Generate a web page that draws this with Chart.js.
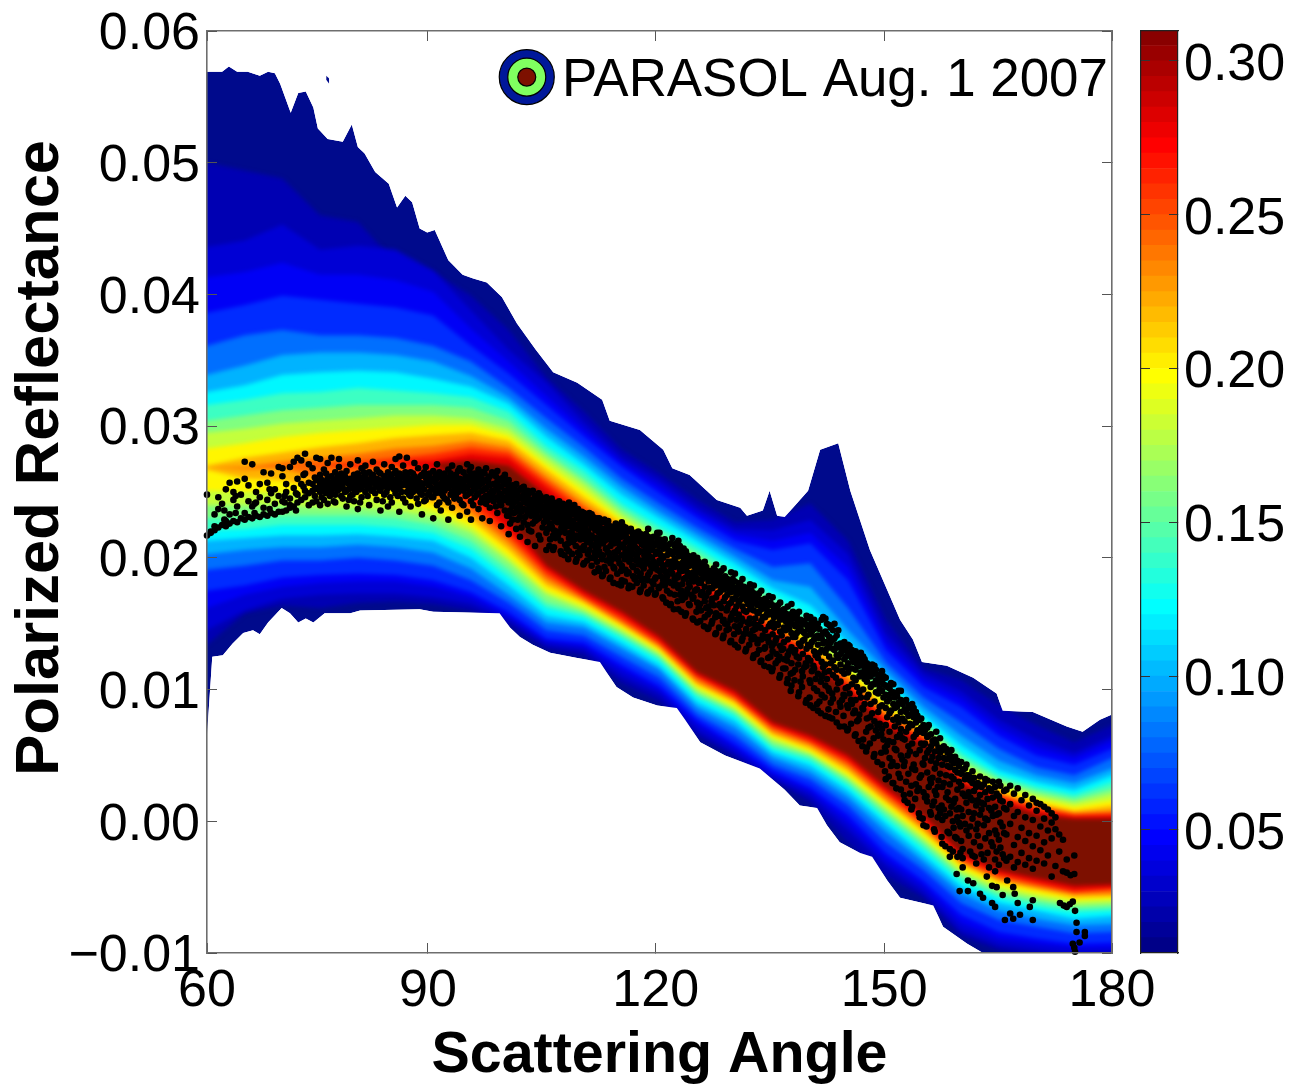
<!DOCTYPE html>
<html><head><meta charset="utf-8">
<style>html,body{margin:0;padding:0;background:#fff}#wrap{position:relative;width:1291px;height:1087px;overflow:hidden}canvas{position:absolute;top:0}</style>
<script src="https://cdn.jsdelivr.net/npm/chart.js@4"></script>
</head><body><div id="wrap"><canvas id="main" width="1291" height="1087" style="left:0"></canvas><canvas id="bar" width="161" height="1087" style="left:1130px"></canvas></div>
<script>
// all reflectance values below are in thousandths
const xTickValues=[60,89.3,119.5,149.8,180];
const xTickLabels=['60','90','120','150','180'];
const yTickValues=[-0.01,0,0.01,0.02,0.03,0.04,0.05,0.06];
const yTickLabels=['\u22120.01','0.00','0.01','0.02','0.03','0.04','0.05','0.06'];
const barTickValues=[0.05,0.10,0.15,0.20,0.25,0.30];
const barTickLabels=['0.05','0.10','0.15','0.20','0.25','0.30'];
const barEdges=[0.01,0.015,0.02,0.025,0.03,0.035,0.04,0.045,0.05,0.055,0.06,0.065,0.07,0.075,0.08,0.085,0.09,0.095,0.10,0.105,0.11,0.115,0.12,0.125,0.13,0.135,0.14,0.145,0.15,0.155,0.16,0.165,0.17,0.175,0.18,0.185,0.19,0.195,0.20,0.205,0.21,0.215,0.22,0.225,0.23,0.235,0.24,0.245,0.25,0.255,0.26,0.265,0.27,0.275,0.28,0.285,0.29,0.295,0.30,0.305,0.3097];
const legendText='PARASOL Aug. 1 2007';
const legendAngle=[102.4];
const legendRefl=[56.5];
const bandLevels=[0.03,0.05,0.07,0.09,0.11,0.13,0.15,0.17,0.19,0.21,0.23,0.25,0.27,0.29];
const bandAngles=[60,65,70,75,80,85,90,95,100,105,110,115,120,125,130,135,140,145,150,155,160,165,170,175,180];
const level02Upper=[50.0,49.4,48.8,46.0,45.5,42.4,41.7,39.9,37.3,33.7,31.1,28.2,26.4,24.4,22.7,22.9,24.1,21.3,15.3,11.6,10.7,8.8,7.3,6.0,7.3];
const level02Lower=[13.4,15.8,16.4,16.2,16.6,16.7,16.5,16.0,14.9,13.1,12.6,10.5,9.1,6.5,4.9,3.2,1.4,-1.6,-4.1,-5.8,-8.7,-9.8,-10.4,-10.7,-10.6];
const level04Upper=[41.3,41.7,42.4,41.5,41.5,41.1,40.2,37.4,34.9,32.3,29.7,27.2,25.4,23.4,21.8,21.3,21.9,19.3,13.6,10.7,9.3,7.1,5.6,4.8,6.1];
const level04Lower=[16.2,17.2,17.8,18.1,18.2,18.2,17.8,17.0,15.6,13.7,13.3,11.5,10.0,7.4,5.6,3.6,2.3,-0.1,-2.9,-4.9,-7.7,-8.9,-9.3,-9.6,-9.6];
// one row per angle, one entry per band level
const bandUpper=[
[43.6,38.6,36.1,33.9,32.6,31.6,30.4,29.5,28.3,27.0,26.9,26.9,26.9,26.9],
[44.1,39.2,36.9,34.6,33.1,32.0,30.8,29.8,28.7,27.6,26.9,26.9,26.9,26.9],
[45.3,39.9,37.3,35.4,33.9,32.5,31.2,30.2,29.2,28.0,27.3,27.0,27.0,27.0],
[43.4,39.6,36.9,35.6,34.1,32.6,31.4,30.4,29.5,28.4,27.6,27.1,27.1,27.1],
[43.7,39.3,36.9,35.6,34.2,32.9,31.6,30.6,29.7,28.7,27.9,27.3,27.0,27.0],
[43.4,39.0,36.7,35.4,34.1,32.7,31.6,30.8,29.9,29.1,28.3,27.6,27.3,27.3],
[41.8,38.4,36.1,34.9,33.6,32.5,31.6,30.8,30.1,29.3,28.5,27.9,27.4,27.1],
[38.8,36.1,34.9,33.8,33.0,32.2,31.4,30.6,30.1,29.5,28.9,28.4,27.9,27.4],
[35.8,34.0,32.9,32.2,31.7,31.1,30.4,29.8,29.3,28.9,28.4,28.0,27.6,27.0],
[33.3,31.6,30.6,29.8,29.2,28.5,28.0,27.6,27.1,26.7,26.2,25.8,25.4,24.8],
[30.3,29.2,28.4,27.7,27.1,26.6,26.0,25.6,25.1,24.6,24.1,23.7,23.2,22.8],
[27.6,26.9,26.0,25.4,24.8,24.1,23.7,23.3,22.9,22.6,22.2,21.9,21.7,21.4],
[25.9,24.9,24.1,23.5,23.0,22.4,21.9,21.5,21.1,20.8,20.5,20.2,20.0,19.7],
[23.8,23.0,22.3,21.8,21.3,20.8,20.3,20.0,19.4,19.1,18.8,18.5,18.1,17.8],
[22.2,21.3,20.7,20.1,19.6,19.0,18.5,18.1,17.5,17.2,16.9,16.6,16.3,16.0],
[22.1,20.6,19.3,18.3,17.7,17.2,16.8,16.3,15.9,15.5,15.1,14.7,14.4,14.0],
[22.9,21.1,19.6,17.8,16.4,15.6,15.0,14.4,13.7,13.4,13.0,12.7,12.5,12.1],
[20.3,18.3,16.2,14.5,13.6,12.9,12.4,11.9,11.6,11.2,10.9,10.5,10.2,9.9],
[14.3,13.0,12.1,11.5,10.9,10.5,10.0,9.6,9.0,8.6,8.2,7.9,7.6,7.2],
[11.2,10.2,9.4,8.7,8.1,7.7,7.5,7.3,7.0,6.8,6.5,6.3,6.1,5.8],
[9.9,8.7,7.5,6.5,5.8,5.2,4.8,4.4,4.0,3.7,3.5,3.3,3.0,2.8],
[7.7,6.5,5.5,4.6,3.9,3.5,3.2,2.9,2.6,2.4,2.1,2.0,1.7,1.5],
[6.2,5.0,4.1,3.5,3.0,2.6,2.3,2.0,1.7,1.4,1.2,1.0,0.8,0.5],
[5.2,4.3,3.5,2.9,2.4,2.0,1.7,1.4,1.1,0.8,0.6,0.5,0.3,0.2],
[6.5,5.5,4.8,4.0,3.5,3.0,2.5,2.1,1.6,1.2,0.8,0.6,0.4,0.2]];
const bandLower=[
[14.5,17.5,19.1,20.3,21.3,22.1,23.0,24.0,25.1,26.7,26.9,26.9,26.9,26.9],
[16.0,17.9,19.4,20.6,21.5,22.2,23.0,24.0,25.0,26.0,26.7,26.9,26.9,26.9],
[16.9,18.5,19.8,20.8,21.7,22.5,23.2,24.0,25.0,25.9,26.8,27.0,27.0,27.0],
[17.2,18.7,19.8,20.8,21.7,22.5,23.2,23.8,24.6,25.3,26.0,27.0,27.1,27.1],
[17.3,18.8,20.0,21.0,21.8,22.5,23.2,23.8,24.6,25.3,25.9,26.8,27.0,27.0],
[17.3,18.7,19.8,20.8,21.6,22.3,23.0,23.6,24.4,25.1,25.7,27.0,27.3,27.3],
[17.0,18.3,19.4,20.4,21.3,21.9,22.5,23.1,23.6,24.1,24.8,25.5,26.7,27.1],
[16.5,17.4,18.3,19.2,20.0,20.7,21.3,21.9,22.4,22.9,23.4,24.0,24.8,25.7],
[15.3,15.9,16.6,17.2,17.9,18.5,19.1,19.7,20.1,20.6,21.1,21.6,22.1,22.9],
[13.4,13.9,14.5,15.1,15.6,16.2,16.6,17.2,17.5,17.9,18.3,18.7,19.1,19.4],
[13.0,13.6,14.1,14.7,15.1,15.5,15.8,16.0,16.3,16.6,16.8,17.0,17.2,17.5],
[11.0,11.9,12.5,13.1,13.5,13.9,14.2,14.4,14.7,14.9,15.1,15.3,15.6,15.9],
[9.6,10.3,10.9,11.5,11.8,12.2,12.5,12.7,12.9,13.1,13.3,13.5,13.7,14.0],
[6.9,7.7,8.1,8.6,9.0,9.4,9.7,9.9,10.2,10.4,10.6,10.9,11.1,11.3],
[5.2,5.9,6.5,7.1,7.6,8.0,8.3,8.5,8.7,9.0,9.2,9.4,9.6,9.9],
[3.3,3.9,4.3,4.8,5.2,5.5,5.8,6.1,6.4,6.6,6.8,7.1,7.3,7.5],
[1.9,2.6,3.2,3.7,4.2,4.6,4.9,5.1,5.3,5.5,5.8,6.0,6.2,6.5],
[-0.7,0.5,1.2,1.8,2.3,2.7,3.0,3.3,3.5,3.8,4.1,4.4,4.7,5.0],
[-3.4,-2.4,-1.6,-0.8,-0.2,0.2,0.6,0.9,1.2,1.5,1.7,2.1,2.3,2.6],
[-5.4,-4.5,-3.7,-3.1,-2.6,-2.1,-1.7,-1.4,-1.1,-0.8,-0.5,-0.2,0.1,0.5],
[-8.3,-7.1,-6.2,-5.5,-5.0,-4.6,-4.2,-3.9,-3.6,-3.3,-3.1,-2.9,-2.7,-2.4],
[-9.4,-8.4,-7.5,-6.8,-6.2,-5.8,-5.5,-5.2,-4.9,-4.6,-4.4,-4.2,-3.9,-3.7],
[-9.8,-8.9,-8.0,-7.4,-6.8,-6.5,-6.1,-5.8,-5.5,-5.2,-5.0,-4.8,-4.6,-4.3],
[-10.2,-9.3,-8.5,-7.9,-7.4,-6.9,-6.6,-6.3,-6.0,-5.8,-5.5,-5.4,-5.2,-4.9],
[-10.0,-9.2,-8.4,-7.8,-7.2,-6.8,-6.5,-6.2,-5.9,-5.7,-5.5,-5.2,-5.0,-4.8]];
const outerTopAngle=[60,62,62.9,64,65.4,67,68.1,69,69.7,71.1,72.1,73.1,74.1,74.7,76,78,79.2,80,80.9,82.3,84.1,85.2,86.3,87.2,88.2,89.2,90.2,92,93.9,95.3,97.1,99.1,101.1,103.6,105.9,109.1,112.4,113.4,117.4,120.5,121.7,124,127.6,130.7,131.6,133.7,134.6,135.6,136.6,137.7,139.7,141.3,143.7,145.3,147.9,151.9,153.6,154.8,158.1,161.6,164.7,165.5,169.5,174,176.1,178.4,180];
const outerTopRefl=[56.9,56.9,57.3,56.9,56.9,56.6,56.9,56.8,56.0,53.8,55.3,55.4,54.2,52.6,51.8,51.6,52.9,51.2,50.7,49.3,48.4,46.6,47.5,47.0,45.0,44.7,44.9,42.6,41.5,41.2,40.9,39.8,37.8,35.8,34.1,33.3,32.0,30.4,29.7,28.2,26.8,26.3,24.4,23.8,23.2,23.6,25.1,23.2,23.1,23.8,25.1,28.2,28.7,25.1,20.6,15.3,13.8,12.1,11.8,10.9,9.7,8.4,8.3,7.2,6.8,7.7,8.1];
const outerLowAngle=[60,60.7,62.1,63.4,64.8,66.1,67,68.1,69.9,71,72.1,73.1,74.1,75.6,79,80.3,88.2,90,98.8,100.2,101.5,103.2,105.5,109.1,112.1,113,114.3,116.5,119.7,122.3,123.4,125.4,128.7,133.3,136.6,138.6,140.9,142.2,143.9,146.6,148.2,150.2,151.9,156.3,157.6,160.8,162.9,165.1,180];
const outerLowRefl=[6.5,12.5,12.6,13.5,14.3,14.5,14.2,15.1,16.2,15.8,15.1,15.4,15.1,15.8,15.8,16.0,16.1,15.9,15.8,14.7,14.0,13.4,12.8,12.4,12.1,11.3,10.2,9.4,8.8,8.6,7.7,6.0,5.0,4.0,2.4,1.2,1.0,-0.3,-1.6,-2.4,-2.7,-4.5,-5.8,-6.4,-8.0,-9.3,-10,-10.9,-12.8];
const islandAngle=[75.8,76.2];
const islandTop=[56.6,56.4];
const islandLow=[56.3,56.0];
// each row: angle, then the reflectance of the dots read at that angle
const dotRows=[
[60,24.8,21.7],[60.5,21.9,22.0],[61,22.1,22.4,23.3],[61.5,22.3,23.7,24.6],[62,22.5,24.1],[62.5,22.4,22.8,25.2],[63,22.6,23.3,25.7],[63.5,22.8,24.4,25.0],[64,22.7,23.9,25.8],[64.5,23.0,24.8],
[65,22.9,23.4,26.0,27.3],[65.5,23.1,24.3,25.5],[66,23.0,23.9,27.1],[66.5,23.2,25.0,24.2],[67,23.1,24.6,25.6],[67.5,23.3,23.8,26.5],[68,23.2,24.4,25.7],[68.5,23.4,24.9,26.4],[69,23.3,24.1,25.2],[69.5,23.5,24.7,26.9],
[70,23.5,24.3,26.2,26.8],[70.5,23.6,25.0,25.6],[71,23.8,24.5,26.9,24.0],[71.5,23.9,25.3,27.3],[72,24.2,24.8,26.0,27.6],[72.5,24.4,25.6,27.4],[73,24.6,25.1,26.4,27.9],[73.5,24.0,24.9,25.7,27.1],[74,25.1,25.6,26.8,24.2],[74.5,24.3,25.3,25.9,27.6],
[75,24.0,25.0,25.6,26.3,27.5],[75.5,24.4,25.2,25.8,26.7],[76,24.1,25.4,26.0,27.2],[76.5,25.0,25.5,26.2,27.6],[77,24.2,24.8,25.7,26.5],[77.5,25.2,25.9,26.9,27.5],[78,24.5,25.3,25.6,26.1],[78.5,23.9,25.1,25.8,26.6],[79,25.4,26.0,27.1,24.7],[79.5,24.3,25.2,25.7,26.3],
[80,25.5,25.9,26.4,27.4,23.7],[80.5,24.6,25.3,26.1,26.8],[81,25.0,25.6,26.2,27.0],[81.5,24.0,25.4,25.9,26.5],[82,25.2,25.8,26.3,27.3],[82.5,24.4,25.5,26.0,26.7],[83,23.6,25.1,25.7,26.4],[83.5,24.8,25.6,26.2,27.1],[84,25.3,25.9,26.5,23.9],[84.5,24.2,25.5,26.0,26.9],
[85,24.9,25.4,25.8,26.6,27.5],[85.5,23.5,25.2,25.9,26.4,27.7],[86,24.5,25.6,26.1,27.0],[86.5,25.0,25.5,26.3,27.6],[87,23.9,24.7,25.8,26.5],[87.5,25.2,25.9,26.2,27.2],[88,24.1,25.1,25.6,26.0,26.8],[88.5,23.3,24.8,25.4,26.3],[89,24.4,25.7,26.1,26.9],[89.5,25.0,25.5,25.9,26.4],
[90,23.0,24.6,25.2,25.8,26.6],[90.5,24.0,25.4,26.0,27.1],[91,23.6,24.9,25.6,26.2],[91.5,24.5,25.1,25.7,26.4],[92,22.9,24.2,25.3,25.9,26.7],[92.5,23.8,25.0,25.5,26.1,27.0],[93,24.7,25.4,25.8,26.3],[93.5,23.2,24.4,25.2,26.0,26.8],[94,24.0,25.1,25.6,26.5],[94.5,23.5,24.8,25.3,25.9,27.1],
[95,22.9,24.3,25.0,25.7,26.2,26.9],[95.5,24.6,25.2,25.8,26.4],[96,23.7,24.9,25.4,26.0,26.7],[96.5,23.0,24.5,25.1,25.7,26.5],[97,24.1,24.7,25.3,25.9,26.8],[97.5,22.8,23.8,24.9,25.5,26.2],[98,24.3,25.0,25.6,26.4],[98.5,23.4,24.6,25.2,25.8,26.6],[99,22.4,24.0,24.8,25.4,26.0],[99.5,23.6,24.4,25.1,25.6,26.3],
[100,21.8,23.2,24.2,24.8,25.3,25.9],[100.5,22.9,23.9,24.6,25.0,25.5],[101,22.2,23.5,24.3,24.9,25.6],[101.5,21.6,23.1,24.0,24.5,25.2],[102,22.7,23.7,24.4,24.8,25.4],[102.5,21.2,22.5,23.4,24.1,24.6,25.1],[103,22.0,23.2,23.9,24.4,25.0],[103.5,20.9,22.8,23.6,24.2,24.7],[104,21.7,23.0,23.8,24.3,24.9],[104.5,22.3,23.3,23.9,24.5],
[105,20.6,21.9,22.9,23.5,24.0,24.6],[105.5,21.4,22.6,23.3,23.8,24.3],[106,20.8,22.1,23.0,23.6,24.2],[106.5,21.6,22.7,23.2,23.7,24.1],[107,20.3,22.3,22.9,23.5,24.0],[107.5,21.0,21.9,22.6,23.2,23.8],[108,20.5,21.5,22.4,23.0,23.6,24.2],[108.5,21.2,22.2,22.8,23.3,23.7],[109,19.9,21.7,22.5,23.0,23.5],[109.5,20.7,21.4,22.1,22.7,23.3],
[110,19.6,20.9,21.8,22.4,22.9,23.4],[110.5,20.3,21.2,22.0,22.6,23.1],[111,19.4,21.0,21.7,22.3,22.8,23.3],[111.5,20.1,20.8,21.5,22.1,22.7],[112,19.0,20.5,21.3,21.9,22.5,23.0],[112.5,18.7,20.2,21.1,21.7,22.2,22.7],[113,19.8,20.7,21.4,22.0,22.6],[113.5,18.5,19.6,20.9,21.5,22.0,22.4],[114,19.2,20.4,21.1,21.7,22.3],[114.5,18.0,19.9,20.6,21.3,21.9,22.5],
[115,18.3,19.4,20.2,21.0,21.6,22.1,22.7],[115.5,19.1,20.5,21.2,21.8,22.3],[116,17.9,19.7,20.0,20.8,21.4,22.0],[116.5,18.6,19.3,20.3,21.1,21.7],[117,18.1,19.0,20.1,20.7,21.3,21.9],[117.5,17.6,18.8,19.8,20.5,21.2,21.8],[118,18.4,19.5,20.2,20.9,21.5],[118.5,17.4,18.7,19.6,20.4,21.0,21.6,22.2],[119,18.2,19.2,20.0,20.6,21.2],[119.5,17.3,18.5,19.4,20.3,21.0,21.6],
[120,17.8,19.0,19.8,20.4,20.9,21.4,21.9],[120.5,16.9,18.3,19.3,20.0,20.7,21.2],[121,17.5,18.6,19.5,20.2,20.8],[121.5,16.5,18.1,19.1,19.7,20.5,21.1],[122,17.2,18.4,19.3,19.9,20.4,20.9],[122.5,16.1,17.7,18.7,19.4,20.1,20.7,21.3],[123,16.8,18.0,19.0,19.6,20.2],[123.5,15.8,17.3,18.5,19.2,19.9,20.5],[124,16.4,17.8,18.8,19.4,20.0],[124.5,15.3,17.0,18.2,18.9,19.6,20.2],
[125,15.1,16.6,17.6,18.4,19.0,19.5,20.0],[125.5,16.0,17.2,18.1,18.8,19.3],[126,15.5,16.7,17.8,18.5,19.1,19.7],[126.5,14.7,16.3,17.4,18.2,18.8],[127,15.2,16.9,17.7,18.3,18.9],[127.5,14.3,15.8,17.0,17.9,18.5,19.0,19.5],[128,15.6,16.5,17.4,18.0,18.6],[128.5,14.1,15.3,16.7,17.6,18.3,19.2],[129,15.0,16.2,17.2,17.9,18.4],[129.5,13.7,15.5,16.6,17.4,18.1,18.9],
[130,13.4,14.8,16.0,16.9,17.5,18.2,18.8],[130.5,14.4,15.7,16.6,17.3,17.9],[131,13.9,15.2,16.3,17.0,17.6,18.4],[131.5,13.1,14.6,15.9,16.8,17.4],[132,14.2,15.4,16.1,16.7,17.2,18.0],[132.5,12.6,14.0,15.0,16.0,16.6,17.3,17.9],[133,13.5,14.9,15.8,16.4,17.0],[133.5,12.2,13.8,15.2,16.1,16.8,17.5],[134,13.2,14.5,15.5,16.3,16.9],[134.5,11.7,13.6,14.8,15.7,16.4,17.1],
[135,11.6,12.9,14.2,15.1,15.8,16.4,17.0],[135.5,12.7,13.9,15.0,15.6,16.2],[136,11.1,13.3,14.4,15.3,15.9,16.6],[136.5,12.3,13.6,14.7,15.4,16.1],[137,10.8,12.6,13.8,14.9,15.5,16.3],[137.5,10.3,12.0,13.2,14.3,15.0,15.7,16.5],[138,11.5,13.0,14.0,14.8,15.4],[138.5,9.8,12.4,13.5,14.5,15.2,15.9],[139,11.0,12.7,13.7,14.4,15.0],[139.5,9.2,11.8,13.1,14.1,14.9,15.6],
[140,8.8,10.5,12.2,13.3,14.2,14.9,15.5],[140.5,10.1,11.6,12.9,13.8,14.6,15.3],[141,8.4,11.2,12.4,13.4,14.1,15.0],[141.5,9.6,11.0,12.1,13.0,13.9,15.3],[142,8.0,10.3,11.9,12.8,13.6,14.4,15.4],[142.5,7.9,9.9,11.4,12.5,13.3,14.0,14.9],[143,9.3,11.1,12.2,13.1,13.8,14.5],[143.5,7.5,10.0,11.5,12.6,13.4,14.1],[144,8.7,10.6,11.9,12.7,13.5],[144.5,7.2,9.5,11.2,12.3,13.0,13.6],
[145,7.0,8.6,10.2,11.3,12.0,12.8,13.4],[145.5,8.9,10.4,11.6,12.4,13.0],[146,6.6,9.2,10.7,11.5,12.2,12.9],[146.5,8.1,9.8,11.0,11.8,12.4],[147,6.2,8.5,10.0,11.1,11.9,12.5],[147.5,5.6,7.8,9.4,10.6,11.4,12.0],[148,7.2,8.9,10.2,11.0,11.7],[148.5,5.1,7.6,9.1,10.4,11.2,11.8],[149,6.5,8.3,9.7,10.5,11.1],[149.5,4.3,7.0,8.8,9.9,10.7,11.4],
[150,3.2,5.3,7.3,8.6,9.6,10.3,10.9],[150.5,4.8,6.8,8.2,9.3,10.1],[151,2.9,6.0,7.7,8.9,9.8,10.4],[151.5,4.2,6.4,7.9,8.7,9.5],[152,2.4,5.0,7.0,8.3,9.2,9.9],[152.5,1.6,4.5,6.2,7.6,8.5,9.1],[153,3.6,5.7,7.1,8.0,8.8],[153.5,1.1,4.0,5.9,7.3,8.2,8.9],[154,2.8,5.1,6.6,7.5,8.3],[154.5,0.3,3.3,5.4,6.8,7.7],
[155,-0.3,2.2,4.3,5.8,6.7,7.3],[155.5,1.5,3.7,5.2,6.4,7.1],[156,0.5,2.9,4.6,5.7,6.6],[156.5,-0.8,2.3,4.0,5.3,6.2],[157,1.0,3.1,4.8,5.6],[157.5,-1.7,0.1,2.6,4.3,5.4],[158,1.8,3.5,4.7,5.5],[158.5,-2.1,0.6,2.8,4.1,5.0],[159,-0.5,1.4,3.2,4.4],[159.5,-2.7,0.3,2.4,3.7,4.6],
[160,-1.5,0.9,2.7,3.6,4.5],[160.5,-0.2,1.9,3.2,4.0],[161,-1.1,0.7,2.2,3.5],[161.5,-2.6,0.2,1.6,2.9,3.8],[162,-3.2,-0.6,1.2,2.6],[162.5,-1.9,0.5,2.0,3.4],[163,-2.9,-0.3,1.3,2.8],[163.5,-2.4,0.1,1.7,3.1],[164,-1.6,0.8,2.3],[164.5,-2.9,-0.7,1.1,2.6],
[165,-3.3,-1.4,0.6,1.9,3.0],[165.5,-2.5,-0.4,1.5],[166,-3.0,-1.0,0.9,2.4],[166.5,-2.7,-0.2,1.3,2.7],[167,-3.5,-1.8,0.4,2.1],[167.5,-3.1,-1.2,0.7,2.5],[168,-2.4,-0.5,1.6],[168.5,-3.3,-1.5,0.3,2.0],[169,-2.8,-0.9,1.2],[169.5,-3.6,-1.9,0.1,1.7],
[170,-3.0,-1.1,0.8,1.4],[170.5,-2.2,-0.4,1.3],[171,-3.2,-1.6,0.2,1.1],[171.5,-2.6,-0.7,0.9],[172,-4.2,-1.3,0.6,-0.1],[172.5,-3.4,-0.6,0.3],[173,-2.3,-1.0],[173.5,-3.8,-1.4],[174,-2.9,-3.9],[174.5,-4.1],[175,-4.0,-2.6]];
const dotRowsExtra=[
[62.3,22.9,23.6],[63.8,23.4,24.7],[66.3,23.4,24.1],[68.3,23.7,25.2],[70.3,24.2,24.7],[71.8,23.6,24.9],[72.8,25.4,26.3],[74.3,24.7,25.2,26.1],[75.2,25.3,24.6,25.9],[75.8,26.4,24.9,25.5],[76.3,24.7,25.7,25.1],[76.8,25.9,24.3,25.3],[77.3,26.2,25.1,25.6],[77.8,24.7,25.5,26.4],[78.3,25.8,25.0,26.2],[78.8,24.4,25.6,25.2],[79.3,25.9,24.8,25.5],[79.8,26.1,25.0,25.6],
[80.3,25.7,24.2,25.2],[80.8,26.5,25.5,25.9],[81.3,24.7,25.8,25.3],[81.8,26.3,25.1,25.7],[82.3,24.9,25.6,26.0],[82.8,25.3,26.5,25.9],[83.3,24.3,25.8,25.4],[83.8,26.0,25.0,25.5],[84.3,25.7,24.6,26.2],[84.8,25.2,25.9,26.4],[85.3,26.1,24.7,25.6],[85.8,25.0,26.2,25.5],[86.3,25.8,24.2,26.5],[86.8,25.3,26.0,24.8],[87.3,26.4,25.6,25.0],[87.8,24.5,25.4,25.9],[88.3,26.2,25.7,24.9],[88.8,25.2,26.5,24.3],[89.3,25.6,26.3,24.8],[89.8,26.0,24.6,25.3],
[90.3,25.7,24.9,26.3],[90.8,25.2,26.5,24.2],[91.3,25.9,25.4,24.7],[91.8,26.1,24.4,25.5],[92.3,25.7,26.4,24.8],[92.8,25.2,24.5,26.0],[93.3,26.6,25.0,25.6],[93.8,25.3,24.1,25.9],[94.3,26.2,24.7,25.4],[94.8,25.7,26.6,24.9],[95.3,25.4,24.0,26.0],[95.8,26.3,24.8,25.5],[96.3,25.6,24.2,26.1],[96.8,25.2,26.4,24.6],[97.3,25.7,24.4,26.0],[97.8,25.1,26.5,24.7],[98.3,25.5,23.9,26.2],[98.8,24.9,25.9,24.3],[99.3,25.7,24.6,26.1],[99.8,25.0,23.2,25.6],
[100.2,24.5,25.1,23.6,22.6],[100.7,25.3,24.2,23.4,24.8],[101.2,24.7,25.0,23.8,22.9],[101.7,23.5,24.6,25.3,22.3],[102.2,24.2,25.0,23.1,24.7],[102.7,24.9,23.7,24.4,22.1],[103.2,24.1,25.1,22.6,23.5],[103.7,24.5,23.3,22.9,24.0],[104.2,24.7,23.6,21.4,24.1],[104.7,23.2,24.4,22.7,23.8],
[105.2,24.3,23.0,23.7,22.2],[105.7,23.9,24.5,22.4,23.2],[106.2,23.4,24.0,21.5,22.8],[106.7,24.3,22.9,23.5,21.9],[107.2,23.7,23.1,24.1,22.5],[107.7,24.0,22.8,23.4,20.7],[108.2,23.3,23.9,21.9,22.6],[108.7,23.5,24.0,22.5,21.4],[109.2,23.1,22.2,23.7,20.4],[109.7,23.5,22.4,21.8,23.0],
[110.2,23.2,22.2,21.4,22.7],[110.7,23.4,22.8,20.6,21.7],[111.2,22.5,23.1,21.5,20.0],[111.7,23.0,22.3,21.2,19.7],[112.2,22.7,21.6,22.2,20.2],[112.7,22.9,21.9,21.3,19.3],[113.2,22.3,20.4,21.8,22.8],[113.7,22.2,21.2,19.9,21.7],[114.2,22.6,21.9,20.1,21.4],[114.7,22.2,21.0,19.6,21.6],
[115.2,21.9,20.8,22.4,19.1],[115.7,21.5,22.1,20.3,18.8],[116.2,22.2,21.1,19.9,20.6],[116.7,21.9,20.9,18.4,21.4],[117.2,21.6,20.4,22.0,19.5],[117.7,21.0,21.5,19.4,18.3],[118.2,21.8,20.6,19.9,21.2],[118.7,21.3,20.7,18.9,20.1],[119.2,21.6,19.7,20.9,18.0],[119.7,21.2,20.5,21.9,19.1],
[120.2,21.1,20.2,18.6,19.6],[120.7,20.9,21.4,19.0,17.9],[121.2,20.5,21.0,19.7,18.2],[121.7,20.3,19.4,21.5,18.8],[122.2,20.6,19.6,18.0,21.1],[122.7,20.4,19.1,17.2,20.9],[123.2,20.0,19.3,18.4,20.7],[123.7,20.2,18.9,17.6,19.6],[124.2,19.7,18.5,20.1,17.2],[124.7,19.9,18.7,17.5,19.3],
[125.2,19.2,18.1,19.7,16.2],[125.7,19.0,18.4,17.4,19.5],[126.2,18.7,19.3,17.1,16.2],[126.7,18.4,19.0,17.7,15.9],[127.2,18.1,18.7,19.2,16.4],[127.7,18.2,17.3,18.8,15.6],[128.2,17.7,18.4,16.2,19.0],[128.7,18.0,17.0,18.6,15.0],[129.2,17.6,18.2,16.5,14.6],[129.7,17.8,16.9,18.4,15.8],
[130.2,17.2,17.7,16.3,15.3],[130.7,17.5,16.8,18.1,14.9],[131.2,17.3,16.0,17.8,14.2],[131.7,17.1,16.5,17.7,15.1],[132.2,16.9,16.3,17.5,13.8],[132.7,16.8,15.4,17.1,14.6],[133.2,16.5,15.9,17.3,13.0],[133.7,16.6,15.5,16.2,14.1],[134.2,16.1,15.7,16.7,13.9],[134.7,15.9,16.6,15.0,12.5],
[135.2,15.5,16.2,14.7,13.5],[135.7,15.9,14.9,16.4,12.2],[136.2,15.6,14.1,16.0,13.0],[136.7,15.2,15.8,14.5,11.6],[137.2,15.7,14.6,15.1,12.9],[137.7,15.4,14.0,15.9,11.3],[138.2,15.0,14.3,15.6,12.5],[138.7,14.7,15.3,13.3,10.6],[139.2,14.3,15.2,13.8,11.7],[139.7,14.6,15.4,13.4,12.4],
[140.2,14.4,13.6,15.1,11.4],[140.7,14.0,14.8,12.6,10.8],[141.2,13.9,14.6,12.8,9.1],[141.7,13.5,14.3,15.5,11.7],[142.2,14.2,13.1,15.0,10.8],[142.7,13.6,14.7,12.0,9.0],[143.2,13.0,13.9,15.0,11.7],[143.7,13.2,12.4,14.5,10.5],[144.2,12.9,13.3,11.4,9.2],[144.7,12.5,13.1,11.7,10.1],
[145.2,12.6,11.6,13.3,9.7],[145.7,12.1,12.7,10.9,8.2],[146.2,11.9,12.5,10.2,7.6],[146.7,12.2,11.3,12.8,9.4],[147.2,11.6,10.8,12.3,8.9],[147.7,11.0,11.8,9.6,7.1],[148.2,11.3,10.4,11.9,8.2],[148.7,10.7,9.8,11.5,6.9],[149.2,10.9,10.1,8.7,7.4],[149.7,10.4,9.4,11.0,6.2],
[150.2,10.2,9.1,7.9,5.8],[150.7,9.7,10.5,8.4,4.2],[151.2,9.4,8.6,7.2,5.5],[151.7,9.0,9.9,7.5,3.6],[152.2,8.9,7.8,6.3,4.7],[152.7,8.3,9.2,6.8,3.0],[153.2,8.6,7.4,5.3,2.1],[153.7,7.9,8.6,6.4,4.3],[154.2,7.7,6.9,8.0,2.3],[154.7,7.1,7.8,5.9,3.5],
[155.2,6.9,5.9,4.8,1.8],[155.7,6.5,7.3,5.4,2.6],[156.2,6.1,4.9,3.3,1.2],[156.7,5.9,6.8,4.4,2.0],[157.2,5.2,6.3,3.6,0.6],[157.7,4.8,5.7,2.9,0.9],[158.2,5.2,4.2,2.2,-0.8],[158.7,4.6,5.4,3.4,1.1],[159.2,4.9,3.9,1.7,-1.2],[159.7,4.2,3.0,1.0,-0.1],
[160.2,3.9,2.1,0.4,-2.1],[160.7,3.5,4.3,1.4,-0.7],[161.2,3.1,1.8,-0.4,-2.3],[161.7,3.3,2.3,0.6,-1.6],[162.2,2.9,1.6,-1.1,-0.2],[162.7,2.6,0.9,-2.5,1.4],[163.2,2.2,3.2,0.2,-1.3],[163.7,2.5,1.0,-0.9,-3.5],[164.2,1.8,3.0,-1.9,0.4],[164.7,2.1,0.5,-1.0,-2.3],
[165.2,1.6,-0.1,-2.0,2.7],[165.7,1.0,2.3,-2.8,-0.9]];
// the sparser dots across the lower half of the cloud
const dotRowsLower=[
[105.4,20.9,22.3],[105.9,21.7,20.6],[106.4,22.0],[106.9,20.5,21.3],[107.4,20.2,22.2],[107.9,21.1,19.9],[108.4,21.8,20.3],[108.9,19.7,20.9],[109.4,21.5,20.2],[109.9,19.5,20.6],
[110.4,21.3,19.8],[110.9,20.0,21.4],[111.4,18.9,20.4],[111.9,20.9,19.2],[112.4,18.6,19.9],[112.9,20.7,19.0],[113.4,18.4,20.1],[113.9,19.3,18.1],[114.4,20.5,18.8],[114.9,17.9,19.0],
[115.4,18.2,19.9],[115.9,17.7,18.9],[116.4,19.4,17.8],[116.9,18.5,19.8],[117.4,17.4,18.6],[117.9,19.2,17.9],[118.4,17.3,18.3],[118.9,19.4,17.6],[119.4,18.4,17.2],[119.9,19.6,17.7],
[120.4,17.0,18.0],[120.9,16.6,18.9],[121.4,17.3,16.4],[121.9,17.9,16.1],[122.4,18.5,16.7],[122.9,15.9,17.5],[123.4,17.0,15.6],[123.9,18.1,16.5],[124.4,15.4,16.9],[124.9,17.6,15.9],
[125.4,15.2,16.5],[125.9,14.8,17.1],[126.4,15.7,14.6],[126.9,16.7,15.0],[127.4,14.2,15.5],[127.9,16.4,14.7],[128.4,13.9,15.2],[128.9,14.5,16.0],[129.4,15.3,13.6],[129.9,14.2,15.8],
[130.4,13.2,14.6],[130.9,15.4,13.7],[131.4,12.9,14.3],[131.9,13.4,15.0],[132.4,12.4,14.5],[132.9,13.8,12.7],[133.4,14.7,12.1],[133.9,13.1,11.8],[134.4,14.0,12.4],[134.9,11.4,13.3],
[135.4,12.0,13.7],[135.9,10.9,12.5],[136.4,11.6,13.1],[136.9,10.5,12.2],[137.4,11.2,9.9],[137.9,12.8,10.7],[138.4,9.5,11.9],[138.9,10.2,11.4],[139.4,9.0,12.0],[139.9,10.7,9.4],
[140.4,8.6,11.8],[140.9,9.9,8.9],[141.4,8.2,10.6],[141.9,9.4,11.3],[142.4,8.5,10.1],[142.9,7.8,9.7],[143.4,8.3,10.9],[143.9,7.2,9.0],[144.4,8.0,9.6],[144.9,6.9,8.8],
[145.4,7.4,9.2],[145.9,6.5,8.4],[146.4,7.7,6.1],[146.9,8.6,5.7],[147.4,6.8,5.3],[147.9,7.9,5.9],[148.4,6.3,4.9],[148.9,7.3,4.5],[149.4,5.2,6.6],[149.9,3.8,5.6],
[150.4,3.4,6.1],[150.9,4.5,2.9],[151.4,5.4,2.5],[151.9,3.3,6.6],[152.4,2.0,4.2],[152.9,5.0,1.4],[153.4,2.7,0.9],[153.9,3.9,1.7],[154.4,0.6,2.5],[154.9,4.4,0.2],
[155.4,-0.4,1.9],[155.9,3.2,0.7],[156.4,-0.6,1.5],[156.9,0.3,2.6],[157.4,-1.2,1.2],[157.9,-1.9,0.4],[158.4,-0.9,1.6],[158.9,-2.3,0.0],[159.4,-1.3,0.9],[159.9,-2.4,-0.4]];
// the strays below the main cloud near the right end
const strayAngle=[158.5,160.2,161.8,159.4,160.2,160.9,159.8,160.9,161.6,162.5,162.9,164.1,164.5,163.4,164.1,164.7,164.5,165.5,166.1,166.9,167.1,167.5,166.5,167.8,165.8,166.9,169.1,169.5,169.5,173.1,173.6,174,174.4,174.8,175.1,175.3,175.3,175.7,176.4,176.4,174.8,175.1,175.0];
const strayRefl=[-2.7,-2.8,-2.7,-4.0,-3.5,-4.5,-5.3,-5.3,-4.7,-5.5,-5.8,-6.2,-6.5,-4.2,-4.9,-5.0,-3.8,-5.6,-4.5,-5.0,-5.5,-6.2,-7.0,-7.1,-7.5,-7.4,-6.5,-6.0,-7.5,-6.2,-6.4,-6.5,-6.3,-6.1,-6.8,-7.7,-8.4,-9.2,-8.4,-8.7,-9.3,-9.9,-9.6];

function jet(t){const c=v=>Math.round(255*Math.max(0,Math.min(1,v)));
  return 'rgb('+c(Math.min(4*t-1.5,-4*t+4.5))+','+c(Math.min(4*t-0.5,-4*t+3.5))+','+c(Math.min(4*t+0.5,-4*t+2.5))+')';}
const NAVY='#000a8c',DARK='#7d1000',FONT='"Liberation Sans", Arial, sans-serif';
const datasets=[];
const base={showLine:true,pointRadius:0,borderWidth:0,tension:0,pointHoverRadius:0};
[[9,DARK,'#000'],[19,'#80ff60','#000'],[27.5,'#00189a','#000']].forEach(m=>datasets.push({data:[{x:legendAngle[0],y:legendRefl[0]/1000}],pointRadius:m[0],pointBackgroundColor:m[1],pointBorderColor:m[2],pointBorderWidth:1.2,showLine:false,clip:false}));
datasets.push({data:dotRows.concat(dotRowsExtra,dotRowsLower).flatMap(r=>r.slice(1).map(v=>({x:r[0],y:v/1000}))).concat(strayAngle.map((a,i)=>({x:a,y:strayRefl[i]/1000}))),pointRadius:3.3,pointBackgroundColor:'#000',pointBorderWidth:0,showLine:false,clip:false});
datasets.push({...base,data:islandAngle.map((a,i)=>({x:a,y:islandTop[i]/1000})),fill:datasets.length+1,backgroundColor:NAVY});
datasets.push({...base,data:islandAngle.map((a,i)=>({x:a,y:islandLow[i]/1000})),fill:false});
// white outside the outline, so the soft inner bands end on a clean edge
const outerTopPts=outerTopAngle.map((a,i)=>({x:a,y:outerTopRefl[i]/1000}));
const outerLowPts=outerLowAngle.map((a,i)=>({x:a,y:outerLowRefl[i]/1000}));
datasets.push({...base,data:outerTopPts,fill:'end',backgroundColor:'#fff'});
datasets.push({...base,data:outerLowPts,fill:'start',backgroundColor:'#fff'});
const firstBand=datasets.length;
// the nested contour levels, highest first so that the highest is painted last
const allLevels=[];
bandLevels.forEach((L,k)=>allLevels.push({L,up:bandUpper.map(r=>r[k]),lo:bandLower.map(r=>r[k])}));
allLevels.push({L:0.02,up:level02Upper,lo:level02Lower});
allLevels.push({L:0.04,up:level04Upper,lo:level04Lower});
allLevels.sort((a,b)=>b.L-a.L);
allLevels.forEach((b,k)=>{
  const next=k===0?0.31:allLevels[k-1].L;
  const col=k===0?DARK:jet(((b.L+next)/2-0.01)/0.3);
  // the first and last column are carried past the axes so the soft edges stay outside the plot
  const pts=arr=>[{x:50,y:arr[0]/1000},...bandAngles.map((a,i)=>({x:a,y:arr[i]/1000})),{x:190,y:arr[arr.length-1]/1000}];
  datasets.push({...base,data:pts(b.up),fill:datasets.length+1,backgroundColor:col});
  datasets.push({...base,data:pts(b.lo),fill:false});
});
const lastBand=datasets.length-1;
datasets.push({...base,data:outerTopPts,fill:datasets.length+1,backgroundColor:NAVY});
datasets.push({...base,data:outerLowPts,fill:false});

const frame={color:'#6e6e6e',width:1.6,z:3};
const tickGrid={drawOnChartArea:false,tickLength:-10,tickColor:'#555',tickWidth:1,z:3};
const noPadY=(s,w)=>{s.width=w;s.paddingTop=0;s.paddingBottom=0;};
const noPadX=(s,h)=>{s.height=h;s.paddingLeft=0;s.paddingRight=0;};
const legendPlugin={id:'legendText',
  // the bands inside the navy outline are painted soft, as in the reference
  afterDatasetDraw(c,args){const x=c.ctx;
    if(args.index===lastBand+1)x.filter='blur(2px)';
    if(args.index===firstBand)x.filter='none';},
  afterDraw(c){const x=c.ctx;x.save();x.font='52.9px '+FONT;x.fillStyle='#000';x.textAlign='left';x.textBaseline='alphabetic';x.fillText(legendText,562,96);x.restore();}};
new Chart(document.getElementById('main'),{type:'scatter',data:{datasets},plugins:[legendPlugin],options:{
  responsive:false,animation:false,devicePixelRatio:1,events:[],
  layout:{autoPadding:false,padding:{left:0,top:31,right:179,bottom:0}},
  plugins:{legend:{display:false},tooltip:{enabled:false}},
  scales:{
    x:{type:'linear',position:'bottom',min:60,max:180,afterBuildTicks(s){s.ticks=xTickValues.map(v=>({value:v}));},afterFit(s){noPadX(s,134);},
      ticks:{autoSkip:false,maxRotation:0,padding:17,color:'#000',font:{family:FONT,size:52},callback:(v,i)=>xTickLabels[i]},
      grid:tickGrid,border:frame,
      title:{display:true,text:'Scattering Angle',color:'#000',font:{family:FONT,size:57.4,weight:'bold',lineHeight:1},padding:{top:0,bottom:2}}},
    x2:{type:'linear',position:'top',min:60,max:180,afterBuildTicks(s){s.ticks=xTickValues.map(v=>({value:v}));},afterFit(s){noPadX(s,0);},ticks:{display:false},grid:tickGrid,border:frame},
    y:{type:'linear',position:'left',min:-0.01,max:0.06,afterBuildTicks(s){s.ticks=yTickValues.map(v=>({value:v}));},afterFit(s){noPadY(s,207);},
      ticks:{autoSkip:false,padding:17,labelOffset:4,color:'#000',font:{family:FONT,size:52},callback:(v,i)=>yTickLabels[i]},
      grid:tickGrid,border:frame,
      title:{display:true,text:'    Polarized Reflectance',color:'#000',font:{family:FONT,size:61.5,weight:'bold',lineHeight:1},padding:{top:10,bottom:0}}},
    y2:{type:'linear',position:'right',min:-0.01,max:0.06,afterBuildTicks(s){s.ticks=yTickValues.map(v=>({value:v}));},afterFit(s){noPadY(s,0);},ticks:{display:false},grid:tickGrid,border:frame}
  }}});

const barSets=barEdges.slice(0,-1).map((lo,i)=>{const hi=barEdges[i+1];const t=((lo+hi)/2-0.01)/0.3;
  return {data:[[lo,hi]],backgroundColor:jet(t),borderWidth:0,barPercentage:1,categoryPercentage:1};});
const barFrame={color:'#222',width:1.2,z:3};
const barGrid={drawOnChartArea:false,tickLength:-9,tickColor:'#333',tickWidth:1,z:3};
new Chart(document.getElementById('bar'),{type:'bar',data:{labels:[''],datasets:barSets},options:{
  responsive:false,animation:false,devicePixelRatio:1,events:[],
  layout:{autoPadding:false,padding:{left:11,top:31,right:0,bottom:134}},
  plugins:{legend:{display:false},tooltip:{enabled:false}},
  scales:{
    x:{type:'category',stacked:true,position:'bottom',afterFit(s){noPadX(s,0);},ticks:{display:false},grid:{display:false},border:barFrame},
    x2:{type:'category',labels:[''],position:'top',afterFit(s){noPadX(s,0);},ticks:{display:false},grid:{display:false},border:barFrame},
    y:{type:'linear',position:'right',min:0.01,max:0.3097,afterBuildTicks(s){s.ticks=barTickValues.map(v=>({value:v}));},afterFit(s){noPadY(s,113);},
      ticks:{autoSkip:false,padding:15,labelOffset:4.5,color:'#000',font:{family:FONT,size:52},callback:(v,i)=>barTickLabels[i]},grid:barGrid,border:barFrame},
    y2:{type:'linear',position:'left',min:0.01,max:0.3097,afterBuildTicks(s){s.ticks=barTickValues.map(v=>({value:v}));},afterFit(s){noPadY(s,0);},ticks:{display:false},grid:barGrid,border:barFrame}
  }}});
</script></body></html>
